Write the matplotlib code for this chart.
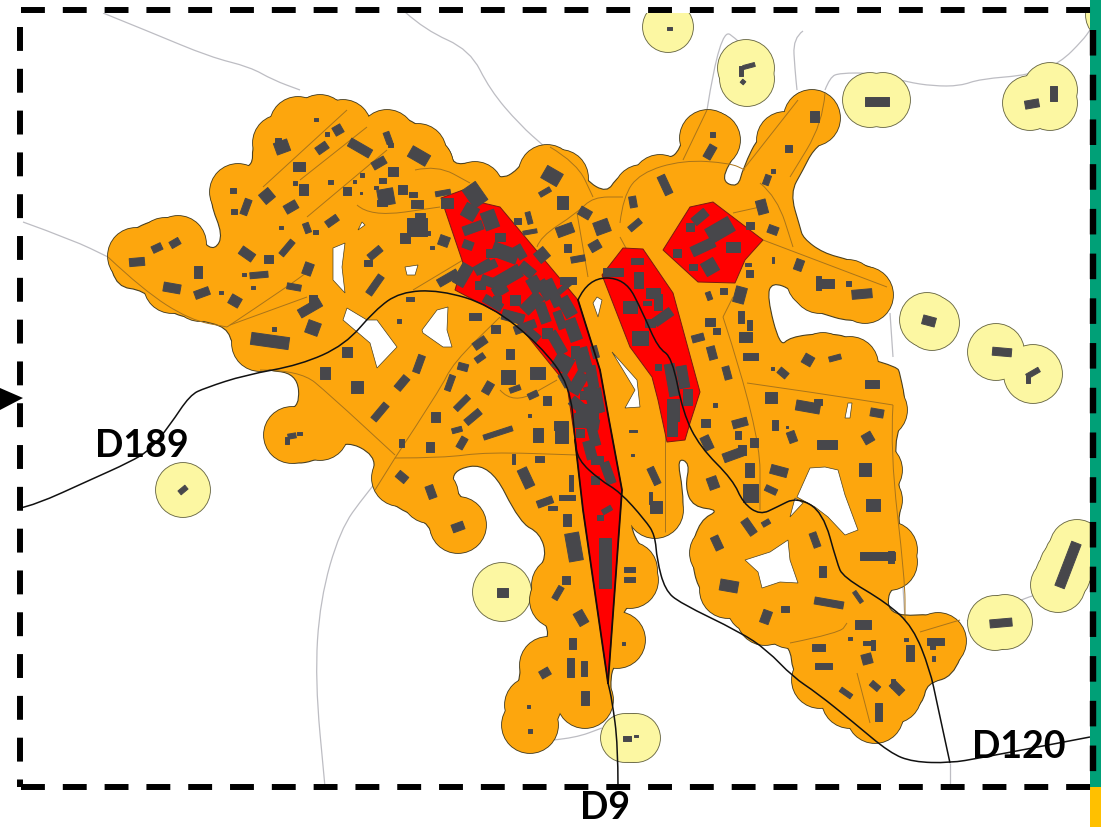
import matplotlib
matplotlib.use("Agg")
import matplotlib.pyplot as plt
from matplotlib.patches import Circle, Rectangle, Polygon, PathPatch
from matplotlib.path import Path

# everything in image pixels (y goes down)
orange_outline = [
    (108,257),(117,240),(137,227),(155,220),(177,216),(197,227),(203,243),(215,250),(223,235),(210,203),
    (213,180),(227,167),(253,168),(252,143),(270,120),(297,113),(303,98),(320,95),(347,103),(363,120),
    (387,110),(420,125),(450,147),(453,165),(473,162),(500,180),(518,170),(528,152),(547,145),(573,153),
    (585,180),(607,193),(617,177),(640,165),(660,155),(677,158),(690,117),(708,110),(733,123),(738,150),
    (720,180),(738,188),(743,168),(760,133),(790,113),(793,93),(817,90),(840,107),(830,137),(813,150),
    (803,170),(790,193),(800,227),(803,238),(823,253),(850,260),(887,273),(893,297),(877,317),(850,322),
    (820,313),(803,307),(793,290),(772,282),(767,297),(780,347),(790,337),(823,333),(853,337),(863,357),
    (897,367),(900,373),(907,410),(893,443),(902,503),(897,527),(917,547),(913,577),(887,590),(890,617),
    (943,613),(967,640),(953,677),(927,683),(923,703),(903,720),(887,743),(867,737),(823,707),(793,677),
    (790,643),(763,645),(740,630),(737,613),(700,597),(690,553),(700,520),(720,510),(693,507),(685,487),
    (690,463),(677,458),(683,490),(683,517),(657,535),(637,530),(630,522),(637,543),(657,563),(650,597),
    (625,607),(623,620),(645,640),(633,663),(610,663),(612,713),(587,728),(563,720),(553,697),(553,733),
    (530,753),(510,740),(505,703),(520,683),(520,657),(547,643),(548,625),(530,607),(533,577),(547,557),
    (540,533),(520,523),(490,463),(450,470),(458,497),(487,520),(460,553),(433,540),(428,522),(387,503),
    (373,477),(375,455),(345,440),(320,460),(290,465),(268,450),(263,430),(280,410),(300,407),(297,373),
    (260,370),(233,347),(227,327),(197,320),(167,312),(143,290),(117,287),
]

# buffer bumps along the outline, radius taken from the isolated circles
orange_bumps = [
    (136,256),(165,246),(178,244),(172,285),(200,293),(145,262),(238,192),(281,143),(298,125),(320,123),
    (343,128),(387,138),(418,152),(425,165),(475,190),(547,173),(560,178),(642,193),(660,183),(708,138),
    (712,140),(785,140),(812,118),(815,280),(848,288),(865,295),(820,285),(823,361),(850,365),(875,395),
    (879,410),(874,470),(874,500),(889,550),(889,562),(938,641),(925,655),(893,695),(875,715),(850,700),
    (820,680),(790,620),(765,617),(755,605),(728,590),(718,553),(725,545),(655,510),(629,570),(630,580),
    (617,640),(585,700),(530,725),(533,705),(548,665),(558,600),(560,585),(458,525),(430,495),(400,478),
    (292,435),(320,432),(260,343),
]
BUMP_RADIUS = 28

holes = [
    [(333,248),(345,243),(342,267),(345,293),(333,280)],
    [(362,222),(365,225),(358,230)],
    [(405,267),(418,265),(415,275),(407,275)],
    [(347,308),(367,320),(377,320),(397,347),(377,368),(370,343),(343,320)],
    [(422,330),(437,310),(448,307),(447,330),(452,347),(443,347),(423,333)],
    [(597,297),(602,300),(598,317),(593,303)],
    [(612,352),(637,380),(640,407),(625,408),(635,390),(623,370)],
    [(745,560),(770,552),(788,540),(790,560),(798,583),(780,582),(762,588),(758,572)],
    [(810,468),(825,467),(838,470),(845,495),(858,530),(845,535),(828,517),(815,507),(797,497)],
    [(790,517),(795,498),(803,503)],
    [(848,403),(852,403),(850,418),(845,418)],
]

red_main = [(441,198),(463,190),(483,203),(500,207),(578,300),(600,370),(609,420),(622,490),(608,683),
            (583,510),(575,440),(567,385),(517,323),(455,290),(463,263)]
red_mid = [(623,248),(643,249),(673,293),(700,392),(690,423),(685,440),(667,442),(658,400),(652,377),(630,347),(602,275)]
red_top = [(663,250),(690,207),(713,202),(763,240),(745,260),(735,283),(698,282)]

yellow_circles = [
    (668,27,25),(746,68,28),(747,79,27),(870,100,27),(883,100,27),(1030,103,27),(1050,90,27),(1050,103,27),
    (1112,15,26),(927,320,27),(932,323,27),(996,352,28),(1033,374,29),(995,623,27),(1005,622,27),
    (1077,547,27),(1072,557,27),(1067,566,27),(1063,575,27),(1058,585,27),(183,490,27),(502,592,29),
    (625,738,24),(631,738,24),(636,738,24),
]

gray_roads = [
    [(103,13),(150,32),(210,57),(250,67),(273,80),(300,90)],
    [(405,12),(425,30),(470,50),(490,90),(520,125),(545,147)],
    [(23,222),(73,240),(108,257)],
    [(707,110),(720,27),(740,42),(750,53)],
    [(803,31),(793,38),(795,70),(797,90)],
    [(825,90),(830,77),(840,73),(873,73),(907,82),(933,86),(960,86),(980,79),(1030,75),(1060,63),(1083,40),(1090,30)],
    [(395,458),(365,495),(340,530),(320,600),(315,680),(325,787)],
    [(553,740),(575,738),(602,728)],
    [(890,313),(893,357)],
    [(903,587),(905,620)],
    [(967,621),(1027,597),(1047,592)],
    [(950,763),(950,787)],
    [(227,327),(250,345)],
]

brown_roads = [
    [(108,257),(143,290),(190,320),(227,327)],
    [(227,327),(287,287),(310,270)],
    [(230,325),(307,297)],
    [(263,187),(347,110)],
    [(300,180),(367,127)],
    [(307,217),(387,150)],
    [(357,205),(370,217),(440,207)],
    [(415,170),(437,165),(470,183)],
    [(413,290),(463,260)],
    [(260,370),(300,370),(330,395),(395,455)],
    [(395,458),(440,390),(453,363),(500,317)],
    [(395,458),(443,458),(487,452),(577,455)],
    [(395,458),(375,490)],
    [(500,390),(513,405),(557,380)],
    [(537,247),(540,237),(577,213),(593,197),(623,197)],
    [(577,213),(588,277)],
    [(550,147),(577,163),(593,197)],
    [(620,237),(627,250)],
    [(620,223),(623,197),(640,173),(683,160),(730,163),(745,170)],
    [(683,160),(707,110)],
    [(743,170),(798,100)],
    [(825,93),(823,123),(790,177)],
    [(760,183),(777,197),(793,247)],
    [(763,240),(887,287)],
    [(733,213),(760,207)],
    [(723,317),(733,297)],
    [(723,317),(760,430),(760,510)],
    [(747,383),(817,393),(893,405)],
    [(893,405),(890,450),(905,580),(905,620)],
    [(920,632),(960,620)],
    [(790,643),(840,633),(847,623)],
    [(857,673),(870,723)],
    [(665,433),(665,532)],
]

road_d189_d120 = [
    (20,508),(35,505),(90,480),(130,462),(150,450),(170,425),(190,395),(205,388),(245,375),(300,365),(345,345),(375,310),
    (400,292),(440,290),(490,305),(540,345),(570,385),(575,440),(578,460),(600,480),(620,492),(645,520),
    (655,535),(657,560),(665,590),(680,603),(740,632),(767,650),(793,677),(817,693),(853,722),(890,753),
    (913,762),(950,763),(980,758),(1090,737),
]
road_d9 = [(618,787),(618,745),(612,700),(608,683)]
road_d9_north = [
    (578,300),(588,278),(625,278),(643,313),(658,348),(672,357),(683,413),(700,447),(733,480),(743,503),
    (760,515),(777,507),(797,497),(823,512),(837,563),(843,577),(887,603),(913,627),(930,670),(937,703),(950,763),
]
red_edge_right = [(578,300),(600,370),(609,420),(622,490),(608,683)]
red_edge_left = [(575,440),(583,510),(608,683)]

# x, y, width, height, angle
buildings_west = [
    (137,262,15,8,-5),(157,248,10,7,-25),(175,243,10,7,-30),(198,272,8,12,0),(172,288,17,9,10),
    (202,293,15,8,-20),(235,301,11,10,30),(221,292,4,3,0),(247,254,15,9,35),(268,259,9,8,0),
    (287,248,18,6,-50),(259,275,18,6,-5),(244,274,4,3,0),(253,287,4,3,0),(308,269,9,12,20),
    (294,287,14,6,10),(310,308,24,9,-30),(313,300,8,10,0),(313,328,13,13,20),(270,341,38,12,8),
    (274,329,4,4,0),(347,352,10,10,0),(325,373,10,12,0),(357,387,12,12,0),(402,383,15,8,-50),
    (419,364,7,18,20),(450,383,6,16,20),(463,367,10,7,15),(480,343,14,8,-35),(480,358,10,6,-35),
    (495,329,9,8,0),(475,316,12,7,0),(410,299,8,4,0),(399,321,4,4,0),(375,253,15,7,-40),
    (368,263,8,6,0),(375,285,22,7,-55),(448,278,22,8,-30),(417,227,20,18,0),(420,218,10,10,0),
    (405,238,10,10,0),(425,233,10,4,0),(444,241,10,10,20),(432,247,4,3,0),(417,204,12,8,0),
    (413,194,8,5,0),(443,193,15,5,-10),(402,189,9,9,0),(386,197,16,16,-10),(382,203,10,6,0),
    (382,180,7,5,0),(376,187,4,3,0),(361,193,2,2,0),(347,191,8,8,0),(393,171,10,9,0),
    (379,163,14,8,-30),(419,156,20,12,30),(388,138,6,12,-20),(390,145,5,4,0),(360,148,24,9,30),
    (338,130,9,9,-30),(327,134,4,4,0),(322,148,12,8,-35),(316,119,4,3,0),(282,147,14,12,-20),
    (278,141,6,6,0),(299,166,12,9,0),(303,189,9,11,0),(330,182,5,4,0),(362,175,4,4,0),
    (354,181,3,3,0),(295,183,4,4,0),(267,196,12,12,-40),(291,207,13,9,-30),(233,190,6,5,0),
    (234,211,6,5,0),(246,207,16,7,-70),(332,221,13,7,-35),(307,228,6,10,-20),(315,232,5,4,0),
    (281,227,4,3,0),(292,436,8,5,-10),(299,433,5,3,0),(287,440,4,7,0),
]
buildings_centre = [
    (552,176,18,14,30),(545,192,12,5,-30),(562,202,11,13,0),(517,221,7,6,0),(529,218,5,12,-15),
    (530,232,14,4,-10),(565,230,17,10,-20),(585,213,12,9,30),(602,227,15,13,-20),(595,246,11,9,-30),
    (567,248,7,8,0),(578,259,14,6,-10),(542,255,12,12,-40),(568,280,16,7,0),(565,287,17,5,-40),
    (633,202,7,11,-10),(635,225,14,6,-40),(665,185,8,20,-25),(712,134,5,5,0),(710,152,8,14,30),
    (814,116,9,11,0),(788,148,7,7,0),(773,171,4,4,0),(767,180,6,10,20),(510,354,8,10,0),
    (508,377,14,14,0),(488,388,8,12,30),(537,373,15,12,0),(515,389,11,5,-20),(533,395,10,6,-25),
    (547,400,8,9,0),(462,403,18,6,-45),(473,417,18,7,-40),(558,425,9,9,0),(529,415,3,3,0),
    (380,412,20,7,-50),(435,417,9,10,0),(457,430,10,5,-15),(462,443,7,12,30),(498,433,30,5,-18),
    (538,435,10,14,0),(561,432,13,22,0),(401,443,5,8,0),(430,447,8,10,0),(513,459,3,10,0),
    (539,459,9,6,0),(526,478,10,20,-25),(571,483,4,16,0),(567,497,16,5,0),(545,502,16,7,-20),
    (552,508,9,4,0),(567,520,8,12,0),(574,547,14,28,-10),(402,477,11,8,40),(431,492,8,13,-20),
    (458,527,12,8,-20),(566,580,8,8,0),(558,593,6,14,30),(581,618,10,14,-30),(572,643,7,11,0),
    (570,667,7,19,0),(584,668,6,15,0),(545,673,10,8,-30),(585,698,8,14,0),(528,706,3,3,0),
    (530,731,4,4,0),(623,643,3,3,0),(629,569,11,5,0),(629,579,11,5,0),(633,431,8,2,0),
    (632,455,3,2,0),(654,476,7,18,-25),(656,507,12,12,0),(650,498,3,12,0),
]
buildings_east = [
    (762,207,10,14,-15),(750,225,8,7,0),(773,230,10,8,20),(748,264,6,3,0),(749,273,7,7,0),
    (773,260,2,6,0),(799,265,8,11,20),(825,283,18,9,0),(818,283,5,14,0),(848,283,5,5,0),
    (862,294,20,9,-5),(740,295,11,16,15),(709,296,5,8,-20),(723,291,7,6,0),(710,322,10,8,0),
    (716,331,7,6,0),(698,338,12,7,-15),(741,317,6,12,0),(749,325,5,10,0),(745,337,13,10,0),
    (750,356,15,7,0),(712,353,8,13,-15),(727,373,7,13,-15),(715,405,4,4,0),(808,360,10,10,30),
    (835,358,12,5,-15),(783,373,10,7,40),(872,384,14,8,0),(771,397,12,11,0),(808,407,24,10,10),
    (818,402,8,6,0),(877,413,13,8,10),(775,425,6,10,0),(705,423,9,8,0),(740,423,15,8,-15),
    (772,368,3,3,0),(792,437,8,11,-20),(787,427,2,2,0),(827,444,20,9,0),(868,438,10,10,-30),
    (865,469,12,13,0),(873,505,14,12,0),(779,471,17,9,15),(771,490,12,6,25),(738,435,6,8,0),
    (754,442,8,9,0),(733,455,20,9,-20),(742,450,8,10,0),(749,470,9,14,0),(750,493,15,18,0),
    (707,443,9,14,-25),(713,483,10,12,-20),(749,527,8,17,-35),(766,523,8,5,-30),(717,543,8,14,-25),
    (729,586,18,11,10),(766,617,9,13,20),(785,609,8,6,0),(815,540,7,15,-20),(822,571,7,11,0),
    (829,603,29,7,10),(858,597,4,13,-35),(877,556,35,8,0),(891,557,6,12,0),(863,624,16,9,0),
    (868,643,11,4,0),(873,645,4,10,0),(867,659,10,10,-15),(850,638,4,3,0),(818,647,13,7,0),
    (823,666,17,6,0),(846,693,13,5,35),(875,686,10,6,40),(897,688,14,8,45),(893,683,4,9,0),
    (878,712,7,18,0),(910,653,8,16,0),(906,639,4,3,0),(935,641,17,7,0),(932,645,5,8,0),
    (933,658,3,5,0),
]
buildings_red = [
    (475,195,16,22,-35),(447,203,12,10,0),(470,212,14,14,30),(490,220,14,18,-20),(473,228,20,9,-20),
    (500,237,10,8,0),(505,253,26,14,20),(483,267,18,9,-30),(463,275,12,22,30),(508,277,28,13,-30),
    (527,270,16,10,40),(493,303,20,8,30),(532,303,22,12,-45),(553,293,10,28,-25),(567,307,20,12,60),
    (513,317,22,10,15),(543,313,10,20,-20),(525,327,22,8,-20),(573,330,12,22,-20),(557,343,10,24,-30),
    (563,363,18,16,30),(547,333,10,10,0),(583,360,14,24,-15),(578,383,22,12,-60),(592,377,10,22,-10),
    (580,407,22,10,40),(593,400,12,28,-15),(587,423,24,10,10),(587,413,22,18,0),(593,433,9,26,-15),
    (580,433,8,8,0),(597,460,12,8,0),(608,473,9,22,-20),(607,510,10,5,-30),(600,517,6,5,0),
    (605,563,12,50,0),(493,253,14,8,0),(487,267,20,8,-25),(490,282,18,9,20),(497,300,8,8,0),
    (468,245,10,8,20),(520,252,8,14,-30),(535,285,12,16,-30),(500,290,14,10,-30),(515,300,10,10,0),
    (480,285,10,8,0),(545,290,10,20,-30),(560,320,8,18,-20),(533,335,14,8,40),(575,352,8,12,0),
    (565,380,8,14,-30),(595,352,6,12,-15),(600,400,5,24,-10),(590,450,10,18,-15),(585,395,10,8,0),
    (578,420,8,14,0),(595,480,8,8,0),
    (613,272,20,8,0),(637,261,12,6,0),(638,280,9,16,0),(653,293,14,10,0),(658,302,8,16,0),
    (647,303,8,4,0),(630,307,14,12,0),(663,317,20,9,-35),(650,323,10,8,0),(640,338,16,14,0),
    (658,367,6,6,0),(672,380,10,32,-10),(683,377,10,22,-10),(673,410,12,22,0),(687,397,9,16,0),
    (672,423,10,26,0),(700,217,16,9,-40),(720,230,26,16,-30),(703,247,24,10,-25),(677,253,8,8,0),
    (733,247,14,10,0),(693,267,8,6,0),(710,267,14,14,-30),(690,227,8,8,0),
]
buildings_yellow = [
    (669,28,5,3,0),(749,66,12,4,-15),(741,71,4,10,0),(743,82,4,4,40),(877,101,24,9,0),(1053,93,7,15,0),
    (1032,104,14,8,-10),(929,321,13,9,15),(1002,352,19,8,5),(1033,373,14,5,-30),(1028,379,4,7,0),
    (1001,623,22,8,-5),(1068,565,47,10,-69),(183,490,9,5,-40),(502,592,11,9,0),(627,738,8,5,0),
    (636,736,4,2,0),
]

labels = ["D189", "D9", "D120"]
label_x = [142, 605, 1019]
label_y = [457, 819, 758]

ORANGE = "#FDA60D"
YELLOW = "#FCF7A2"
RED = "#FF0000"
BUILDING = "#47474B"
OUTLINE = "#4A4020"


def smooth_path(points):
    # closed quadratic curve through the midpoints of the traced outline
    mids = [((points[i][0] + points[(i + 1) % len(points)][0]) / 2,
             (points[i][1] + points[(i + 1) % len(points)][1]) / 2) for i in range(len(points))]
    verts = [mids[-1]]
    codes = [Path.MOVETO]
    for i, p in enumerate(points):
        verts += [p, mids[i]]
        codes += [Path.CURVE3, Path.CURVE3]
    verts.append(mids[-1])
    codes.append(Path.CLOSEPOLY)
    return Path(verts, codes)


def smooth_line(ax, points, **style):
    # same rounding for an open line, the end points stay where they are
    verts = [points[0]]
    codes = [Path.MOVETO]
    for i in range(1, len(points) - 1):
        mid = ((points[i][0] + points[i + 1][0]) / 2, (points[i][1] + points[i + 1][1]) / 2)
        verts += [points[i], mid]
        codes += [Path.CURVE3, Path.CURVE3]
    verts.append(points[-1])
    codes.append(Path.LINETO)
    ax.add_patch(PathPatch(Path(verts, codes), facecolor="none", **style))


def draw_buildings(ax, buildings, z):
    for x, y, w, h, a in buildings:
        ax.add_patch(Rectangle((x - w / 2, y - h / 2), w, h, angle=a, rotation_point="center",
                               facecolor=BUILDING, edgecolor=BUILDING, lw=0.7, joinstyle="round", zorder=z))


fig = plt.figure(figsize=(11.01, 8.27), dpi=100)
ax = fig.add_axes([0, 0, 1, 1])
ax.set_xlim(0, 1101)
ax.set_ylim(827, 0)
ax.axis("off")

for road in gray_roads:
    smooth_line(ax, road, edgecolor="#BDBDC3", lw=0.9, zorder=1)

# yellow buffers: dark circles first, then the fill, so only the union keeps an outline
for x, y, r in yellow_circles:
    ax.add_patch(Circle((x, y), r + 0.9, facecolor="#6B6A45", edgecolor="none", zorder=2))
for x, y, r in yellow_circles:
    ax.add_patch(Circle((x, y), r, facecolor=YELLOW, edgecolor="none", zorder=3))

# same trick for the orange area, the traced outline fills everything between the bumps
for x, y in orange_bumps:
    ax.add_patch(Circle((x, y), BUMP_RADIUS + 0.9, facecolor=OUTLINE, edgecolor="none", zorder=3.5))
ax.add_patch(PathPatch(smooth_path(orange_outline), facecolor=ORANGE, edgecolor=OUTLINE, lw=0.8, zorder=4))
for x, y in orange_bumps:
    ax.add_patch(Circle((x, y), BUMP_RADIUS, facecolor=ORANGE, edgecolor="none", zorder=4.5))
for hole in holes:
    ax.add_patch(Polygon(hole, closed=True, facecolor="white", edgecolor=OUTLINE, lw=0.5, zorder=5))

for road in brown_roads:
    smooth_line(ax, road, edgecolor="#A9741A", lw=0.7, zorder=6)

for poly in [red_main, red_mid, red_top]:
    ax.add_patch(Polygon(poly, closed=True, facecolor=RED, edgecolor="#7A1A10", lw=0.7, zorder=7))

draw_buildings(ax, buildings_west + buildings_centre + buildings_east + buildings_yellow, 8)
draw_buildings(ax, buildings_red, 8)

for road in [road_d189_d120, road_d9, road_d9_north]:
    smooth_line(ax, road, edgecolor="#111111", lw=1.1, zorder=9)
for road in [red_edge_right, red_edge_left]:
    xs, ys = zip(*road)
    ax.plot(xs, ys, color="#1A0A0A", lw=1.3, zorder=9)

# white margins around the map frame
ax.add_patch(Rectangle((0, 0), 1101, 13, facecolor="white", edgecolor="none", zorder=10))
ax.add_patch(Rectangle((0, 0), 20, 827, facecolor="white", edgecolor="none", zorder=10))
ax.add_patch(Rectangle((0, 787), 1090, 40, facecolor="white", edgecolor="none", zorder=10))

ax.add_patch(Rectangle((1090, 0), 11, 787, facecolor="#00A077", edgecolor="none", zorder=11))
ax.add_patch(Rectangle((1090, 787), 11, 40, facecolor="#FFC000", edgecolor="none", zorder=11))

dash = (0, (4, 3))
ax.plot([21, 1096], [10, 10], color="black", lw=4.3, linestyle=dash, dash_capstyle="butt", zorder=12)
ax.plot([21, 1096], [787, 787], color="black", lw=4.3, linestyle=dash, dash_capstyle="butt", zorder=12)
ax.plot([20, 20], [27, 787], color="black", lw=4.3, linestyle=dash, dash_capstyle="butt", zorder=12)
ax.plot([1093, 1093], [30, 787], color="black", lw=4.6, linestyle=dash, dash_capstyle="butt", zorder=12)
ax.add_patch(Polygon([(0, 388), (23, 398), (0, 410)], closed=True, facecolor="black", edgecolor="none", zorder=12))

for name, x, y in zip(labels, label_x, label_y):
    ax.text(x, y, name, family="Lato", fontweight="bold", fontsize=27, color="black",
            ha="center", va="baseline", zorder=13)

fig.savefig("out.png", dpi=100)
